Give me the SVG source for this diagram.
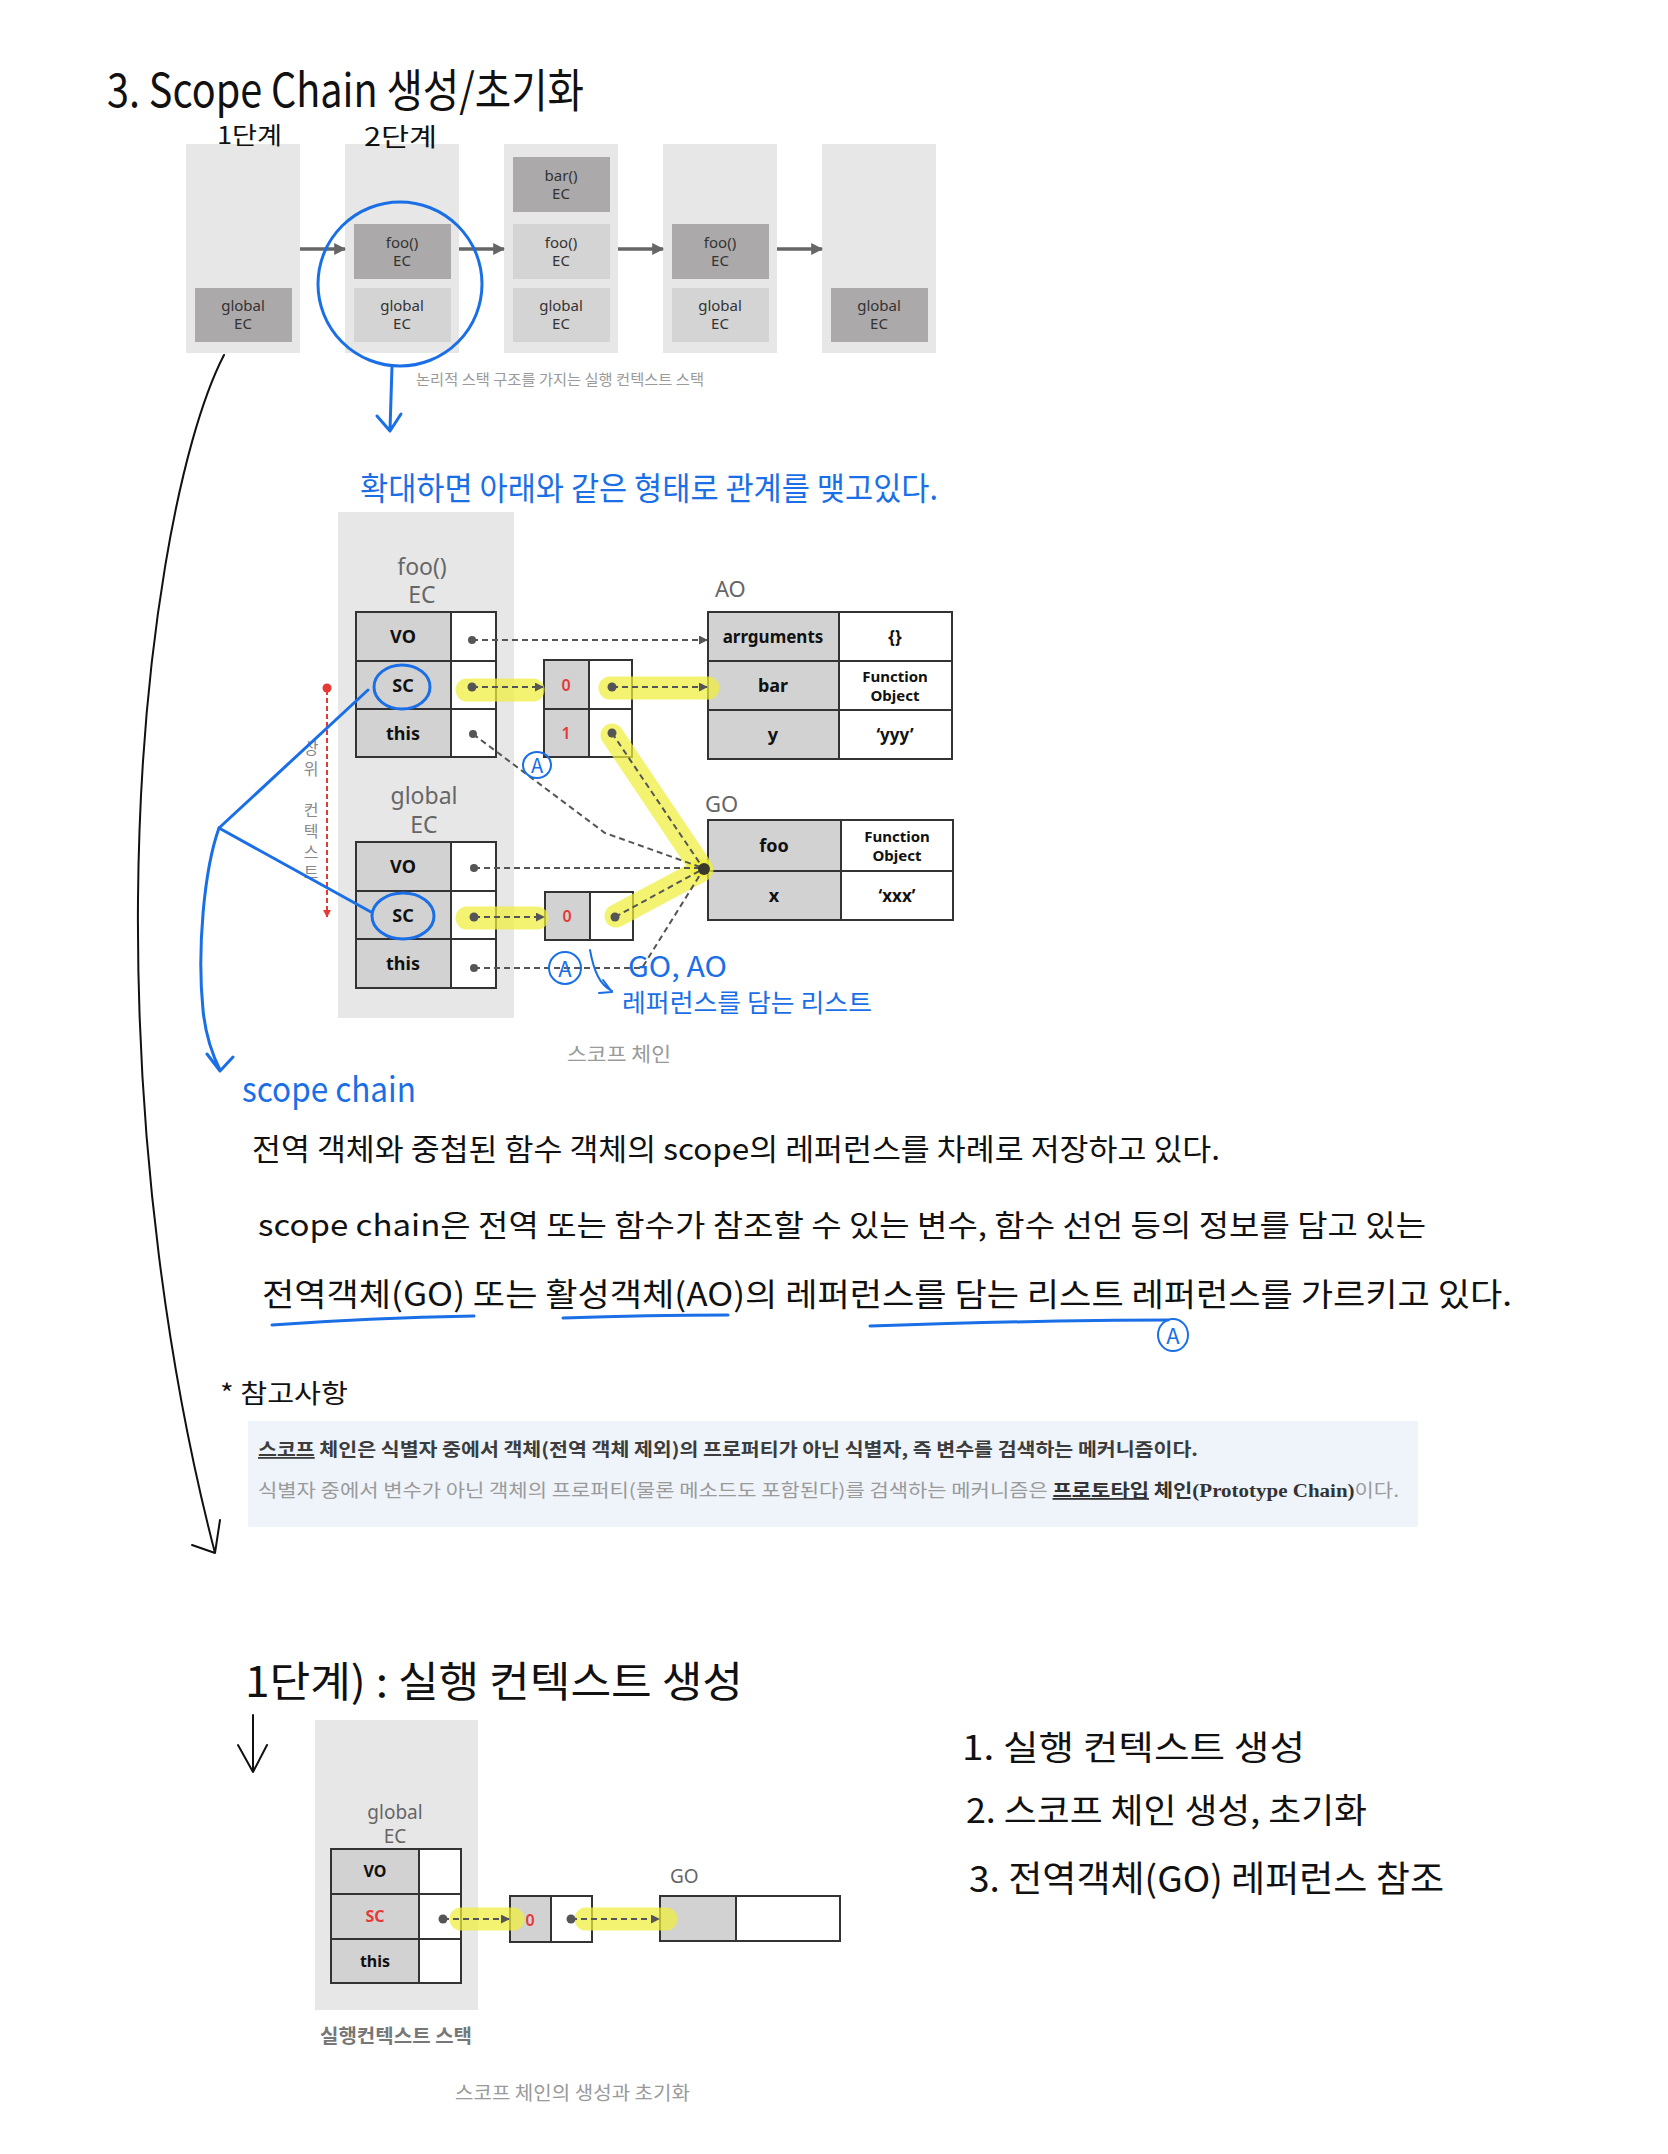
<svg xmlns="http://www.w3.org/2000/svg" width="1668" height="2154" viewBox="0 0 1668 2154">
<defs>
<marker id="ah" viewBox="0 0 10 10" refX="9" refY="5" markerWidth="9" markerHeight="9" markerUnits="userSpaceOnUse" orient="auto"><path d="M0,0 L10,5 L0,10 z" fill="#555"/></marker>
<marker id="ahBig" viewBox="0 0 10 10" refX="9" refY="5" markerWidth="12" markerHeight="12" markerUnits="userSpaceOnUse" orient="auto"><path d="M0,0 L10,5 L0,10 z" fill="#666"/></marker>
<marker id="ahRed" viewBox="0 0 10 10" refX="9" refY="5" markerWidth="8" markerHeight="8" markerUnits="userSpaceOnUse" orient="auto"><path d="M0,0 L10,5 L0,10 z" fill="#e53935"/></marker>
</defs>
<style>
.panel{fill:#e8e7e8}
.dk{fill:#aba9aa}
.lt{fill:#d5d4d5}
.bx{font-family:"Noto Sans","DejaVu Sans",sans-serif;font-size:15px;fill:#333;text-anchor:middle}
.cl{fill:#d3d2d3;stroke:#333;stroke-width:2}
.cv{fill:#fff;stroke:#333;stroke-width:2}
.lb{font-family:"Noto Sans","DejaVu Sans",sans-serif;font-weight:700;font-size:18px;fill:#111;text-anchor:middle;dominant-baseline:central}
.lbs{font-family:"Noto Sans","DejaVu Sans",sans-serif;font-weight:700;font-size:15px;fill:#111;text-anchor:middle}
.ttl{font-family:"Noto Sans","DejaVu Sans",sans-serif;font-size:23px;fill:#666;text-anchor:middle}
.red{fill:#e53935;font-family:"Noto Sans",sans-serif;font-weight:600;font-size:16px;text-anchor:middle;dominant-baseline:central}
.dash{stroke:#555;stroke-width:2;stroke-dasharray:6 4;fill:none}
.hl{stroke:#efee3a;stroke-opacity:.72;stroke-width:23;stroke-linecap:round;fill:none}
.dot{fill:#555}
.blue{stroke:#1a6fe6;stroke-width:3;fill:none;stroke-linecap:round;stroke-linejoin:round}
.blk{stroke:#111;stroke-width:2;fill:none;stroke-linecap:round;stroke-linejoin:round}
.hand{font-family:"Noto Sans CJK KR","Noto Sans",sans-serif}
.hb{fill:#1a6fe6}
.hk{fill:#111}
.cap{font-family:"Noto Sans CJK KR","Noto Sans",sans-serif;fill:#9a9a9a}
.vt{font-family:"Noto Sans CJK KR",sans-serif;font-size:16px;fill:#888;text-anchor:middle;dominant-baseline:central}
</style>
<rect width="1668" height="2154" fill="#fff"/>

<!-- Title -->
<text class="hand hk" x="107" y="107" font-size="46" textLength="477" lengthAdjust="spacingAndGlyphs">3. Scope Chain 생성/초기화</text>

<!-- Top stack row -->
<g id="stack1">
<rect class="panel" x="186" y="144" width="114" height="209"/>
<rect class="dk" x="195" y="288" width="97" height="54"/>
<text class="bx" x="243" y="311">global</text><text class="bx" x="243" y="329">EC</text>
</g>
<g id="stack2">
<rect class="panel" x="345" y="144" width="114" height="209"/>
<rect class="dk" x="354" y="224" width="97" height="55"/>
<text class="bx" x="402" y="248">foo()</text><text class="bx" x="402" y="266">EC</text>
<rect class="lt" x="354" y="288" width="97" height="54"/>
<text class="bx" x="402" y="311">global</text><text class="bx" x="402" y="329">EC</text>
</g>
<g id="stack3">
<rect class="panel" x="504" y="144" width="114" height="209"/>
<rect class="dk" x="513" y="157" width="97" height="55"/>
<text class="bx" x="561" y="181">bar()</text><text class="bx" x="561" y="199">EC</text>
<rect class="lt" x="513" y="224" width="97" height="55"/>
<text class="bx" x="561" y="248">foo()</text><text class="bx" x="561" y="266">EC</text>
<rect class="lt" x="513" y="288" width="97" height="54"/>
<text class="bx" x="561" y="311">global</text><text class="bx" x="561" y="329">EC</text>
</g>
<g id="stack4">
<rect class="panel" x="663" y="144" width="114" height="209"/>
<rect class="dk" x="672" y="224" width="97" height="55"/>
<text class="bx" x="720" y="248">foo()</text><text class="bx" x="720" y="266">EC</text>
<rect class="lt" x="672" y="288" width="97" height="54"/>
<text class="bx" x="720" y="311">global</text><text class="bx" x="720" y="329">EC</text>
</g>
<g id="stack5">
<rect class="panel" x="822" y="144" width="114" height="209"/>
<rect class="dk" x="831" y="288" width="97" height="54"/>
<text class="bx" x="879" y="311">global</text><text class="bx" x="879" y="329">EC</text>
</g>
<text class="hand hk" x="217" y="144" font-size="24" textLength="65" lengthAdjust="spacingAndGlyphs">1단계</text>
<text class="hand hk" x="364" y="146" font-size="25" textLength="73" lengthAdjust="spacingAndGlyphs">2단계</text>
<text class="cap" x="416" y="385" font-size="15" textLength="288" lengthAdjust="spacingAndGlyphs">논리적 스택 구조를 가지는 실행 컨텍스트 스택</text>

<!-- Expanded diagram -->
<text class="hand hb" x="360" y="500" font-size="32" textLength="578" lengthAdjust="spacingAndGlyphs">확대하면 아래와 같은 형태로 관계를 맺고있다.</text>

<g id="ec-panel">
<rect class="panel" x="338" y="512" width="176" height="506"/>
<text class="ttl" x="422" y="575">foo()</text>
<text class="ttl" x="422" y="603">EC</text>
<text class="ttl" x="424" y="804">global</text>
<text class="ttl" x="424" y="833">EC</text>
</g>

<g id="foo-ec">
<rect class="cl" x="356" y="612" width="95" height="49"/><rect class="cv" x="451" y="612" width="45" height="49"/>
<rect class="cl" x="356" y="661" width="95" height="48"/><rect class="cv" x="451" y="661" width="45" height="48"/>
<rect class="cl" x="356" y="709" width="95" height="48"/><rect class="cv" x="451" y="709" width="45" height="48"/>
<text class="lb" x="403" y="636">VO</text>
<text class="lb" x="403" y="685">SC</text>
<text class="lb" x="403" y="733">this</text>
</g>

<g id="foo-sc-list">
<rect class="cl" x="544" y="660" width="45" height="49"/><rect class="cv" x="589" y="660" width="43" height="49"/>
<rect class="cl" x="544" y="709" width="45" height="48"/><rect class="cv" x="589" y="709" width="43" height="48"/>
<text class="red" x="566" y="685">0</text>
<text class="red" x="566" y="733">1</text>
</g>

<g id="global-ec">
<rect class="cl" x="356" y="842" width="95" height="49"/><rect class="cv" x="451" y="842" width="45" height="49"/>
<rect class="cl" x="356" y="891" width="95" height="48"/><rect class="cv" x="451" y="891" width="45" height="48"/>
<rect class="cl" x="356" y="939" width="95" height="49"/><rect class="cv" x="451" y="939" width="45" height="49"/>
<text class="lb" x="403" y="866">VO</text>
<text class="lb" x="403" y="915">SC</text>
<text class="lb" x="403" y="963">this</text>
</g>

<g id="global-sc-list">
<rect class="cl" x="545" y="892" width="45" height="48"/><rect class="cv" x="590" y="892" width="43" height="48"/>
<text class="red" x="567" y="916">0</text>
</g>

<g id="ao">
<text class="ttl" x="715" y="597" style="text-anchor:start;font-size:22px">AO</text>
<rect class="cl" x="708" y="612" width="131" height="49"/><rect class="cv" x="839" y="612" width="113" height="49"/>
<rect class="cl" x="708" y="661" width="131" height="49"/><rect class="cv" x="839" y="661" width="113" height="49"/>
<rect class="cl" x="708" y="710" width="131" height="49"/><rect class="cv" x="839" y="710" width="113" height="49"/>
<text class="lb" x="773" y="636" style="font-size:17px">arrguments</text>
<text class="lb" x="895" y="636" style="font-size:17px">{}</text>
<text class="lb" x="773" y="685">bar</text>
<text class="lbs" x="895" y="682">Function</text><text class="lbs" x="895" y="701">Object</text>
<text class="lb" x="773" y="734">y</text>
<text class="lb" x="895" y="734" style="font-size:17px">‘yyy’</text>
</g>

<g id="go">
<text class="ttl" x="705" y="812" style="text-anchor:start;font-size:22px">GO</text>
<rect class="cl" x="708" y="820" width="133" height="51"/><rect class="cv" x="841" y="820" width="112" height="51"/>
<rect class="cl" x="708" y="871" width="133" height="49"/><rect class="cv" x="841" y="871" width="112" height="49"/>
<text class="lb" x="774" y="845">foo</text>
<text class="lbs" x="897" y="842">Function</text><text class="lbs" x="897" y="861">Object</text>
<text class="lb" x="774" y="895">x</text>
<text class="lb" x="897" y="895" style="font-size:17px">‘xxx’</text>
</g>

<text class="cap" x="567" y="1062" font-size="20" textLength="104" lengthAdjust="spacingAndGlyphs">스코프 체인</text>

<!-- vertical label -->
<g id="upper-context">
<text class="vt" x="311" y="747">상</text>
<text class="vt" x="311" y="768">위</text>
<text class="vt" x="311" y="809">컨</text>
<text class="vt" x="311" y="830">텍</text>
<text class="vt" x="311" y="851">스</text>
<text class="vt" x="311" y="871">트</text>
</g>

<!-- Bottom diagram -->
<g id="bottom-ec">
<rect class="panel" x="315" y="1720" width="163" height="290"/>
<text class="ttl" x="395" y="1819" style="font-size:19px">global</text>
<text class="ttl" x="395" y="1843" style="font-size:19px">EC</text>
<rect class="cl" x="331" y="1849" width="88" height="45"/><rect class="cv" x="419" y="1849" width="42" height="45"/>
<rect class="cl" x="331" y="1894" width="88" height="45"/><rect class="cv" x="419" y="1894" width="42" height="45"/>
<rect class="cl" x="331" y="1939" width="88" height="44"/><rect class="cv" x="419" y="1939" width="42" height="44"/>
<text class="lb" x="375" y="1871" style="font-size:16px">VO</text>
<text class="lb" x="375" y="1916" style="font-size:16px;fill:#e53935">SC</text>
<text class="lb" x="375" y="1961" style="font-size:16px">this</text>
</g>
<g id="bottom-sc-list">
<rect class="cl" x="510" y="1896" width="41" height="46"/><rect class="cv" x="551" y="1896" width="41" height="46"/>
<text class="red" x="530" y="1920">0</text>
</g>
<g id="bottom-go">
<text class="ttl" x="670" y="1883" style="text-anchor:start;font-size:19px">GO</text>
<rect class="cl" x="660" y="1896" width="76" height="45"/><rect class="cv" x="736" y="1896" width="104" height="45"/>
</g>
<text class="cap" x="320" y="2043" font-size="19" font-weight="700" style="fill:#777" textLength="152" lengthAdjust="spacingAndGlyphs">실행컨텍스트 스택</text>
<text class="cap" x="455" y="2100" font-size="19" textLength="235" lengthAdjust="spacingAndGlyphs">스코프 체인의 생성과 초기화</text>

<!-- Connectors -->
<g id="connectors">
<line x1="300" y1="249" x2="345" y2="249" stroke="#666" stroke-width="3.5" marker-end="url(#ahBig)"/>
<line x1="459" y1="249" x2="504" y2="249" stroke="#666" stroke-width="3.5" marker-end="url(#ahBig)"/>
<line x1="618" y1="249" x2="663" y2="249" stroke="#666" stroke-width="3.5" marker-end="url(#ahBig)"/>
<line x1="777" y1="249" x2="822" y2="249" stroke="#666" stroke-width="3.5" marker-end="url(#ahBig)"/>

<line class="hl" x1="467" y1="690" x2="533" y2="690"/>
<line class="hl" x1="610" y1="688" x2="708" y2="688"/>
<line class="hl" x1="612" y1="735" x2="700" y2="866"/>
<line class="hl" x1="467" y1="918" x2="537" y2="918"/>
<line class="hl" x1="616" y1="916" x2="702" y2="870"/>
<line class="hl" x1="461" y1="1919" x2="513" y2="1919"/>
<line class="hl" x1="586" y1="1919" x2="666" y2="1919"/>

<line class="dash" x1="472" y1="640" x2="707" y2="640" marker-end="url(#ah)"/>
<line class="dash" x1="472" y1="687" x2="543" y2="687" marker-end="url(#ah)"/>
<line class="dash" x1="612" y1="687" x2="707" y2="687" marker-end="url(#ah)"/>
<line class="dash" x1="612" y1="733" x2="703" y2="868"/>
<polyline class="dash" points="473,734 605,833 703,868"/>
<line class="dash" x1="474" y1="868" x2="703" y2="868"/>
<line class="dash" x1="474" y1="917" x2="544" y2="917" marker-end="url(#ah)"/>
<line class="dash" x1="615" y1="917" x2="703" y2="869"/>
<polyline class="dash" points="474,968 642,968 703,870"/>
<circle cx="704" cy="869" r="6" fill="#3a3a2a"/>
<circle class="dot" cx="472" cy="640" r="4"/>
<circle class="dot" cx="472" cy="687" r="4.5"/>
<circle class="dot" cx="473" cy="734" r="4"/>
<circle class="dot" cx="612" cy="687" r="4.5"/>
<circle class="dot" cx="612" cy="733" r="4.5"/>
<circle class="dot" cx="474" cy="868" r="4"/>
<circle class="dot" cx="474" cy="917" r="4.5"/>
<circle class="dot" cx="474" cy="968" r="4"/>
<circle class="dot" cx="615" cy="917" r="4.5"/>
<circle cx="327" cy="688" r="4.5" fill="#e53935"/>
<line x1="327" y1="690" x2="327" y2="917" stroke="#e53935" stroke-width="2" stroke-dasharray="5 3" marker-end="url(#ahRed)"/>
<line class="dash" x1="443" y1="1919" x2="509" y2="1919" marker-end="url(#ah)"/>
<line class="dash" x1="571" y1="1919" x2="659" y2="1919" marker-end="url(#ah)"/>
<circle class="dot" cx="443" cy="1919" r="4.5"/>
<circle class="dot" cx="571" cy="1919" r="4.5"/>
</g>

<!-- Blue annotations -->
<g id="annotations">
<circle class="blue" cx="400" cy="284" r="82"/>
<path class="blue" d="M392,366 L390,430 M377,416 L390,431 L401,414"/>
<ellipse class="blue" cx="402" cy="687" rx="28" ry="22"/>
<ellipse class="blue" cx="403" cy="916" rx="31" ry="23"/>
<path class="blue" d="M368,690 L219,828 L371,912"/>
<path class="blue" d="M219,828 C 204,870 197,950 203,1010 C 206,1040 214,1058 220,1070 M207,1054 L220,1071 L233,1057"/>
<text class="hand hb" x="242" y="1102" font-size="34" textLength="174" lengthAdjust="spacingAndGlyphs">scope chain</text>

<ellipse class="blue" cx="537" cy="765" rx="14" ry="13" style="stroke-width:2"/>
<text class="hand hb" x="537" y="773" font-size="20" text-anchor="middle">A</text>
<ellipse class="blue" cx="565" cy="968" rx="16" ry="16" style="stroke-width:2"/>
<text class="hand hb" x="565" y="977" font-size="22" text-anchor="middle">A</text>
<path class="blue" d="M590,950 C 594,972 600,985 612,991 M603,980 L612,992 L599,993" style="stroke-width:2"/>
<text class="hand hb" x="628" y="977" font-size="28" textLength="99" lengthAdjust="spacingAndGlyphs">GO, AO</text>
<text class="hand hb" x="622" y="1012" font-size="25" textLength="250" lengthAdjust="spacingAndGlyphs">레퍼런스를 담는 리스트</text>

<path class="blue" d="M272,1325 C 340,1320 420,1317 474,1316"/>
<path class="blue" d="M563,1318 C 620,1316 690,1315 728,1315"/>
<path class="blue" d="M870,1326 C 960,1323 1080,1320 1168,1320"/>
<ellipse class="blue" cx="1173" cy="1335" rx="15" ry="16" style="stroke-width:2"/>
<text class="hand hb" x="1173" y="1344" font-size="22" text-anchor="middle">A</text>
</g>

<path class="blk" d="M224,355 C 180,440 140,650 138,900 C 136,1150 170,1380 215,1553 M192,1545 L215,1553 L220,1520"/>

<text class="hand hk" x="252" y="1160" font-size="30" textLength="968" lengthAdjust="spacingAndGlyphs">전역 객체와 중첩된 함수 객체의 scope의 레퍼런스를 차례로 저장하고 있다.</text>
<text class="hand hk" x="258" y="1236" font-size="30" textLength="1168" lengthAdjust="spacingAndGlyphs">scope chain은 전역 또는 함수가 참조할 수 있는 변수, 함수 선언 등의 정보를 담고 있는</text>
<text class="hand hk" x="262" y="1306" font-size="32" textLength="1250" lengthAdjust="spacingAndGlyphs">전역객체(GO) 또는 활성객체(AO)의 레퍼런스를 담는 리스트 레퍼런스를 가르키고 있다.</text>

<text class="hand hk" x="220" y="1403" font-size="26" textLength="128" lengthAdjust="spacingAndGlyphs">* 참고사항</text>

<g id="note">
<rect x="248" y="1421" width="1170" height="106" fill="#eef4fa"/>
<text x="258" y="1456" font-family="'Noto Sans CJK KR','Noto Sans',sans-serif" font-size="18" font-weight="700" fill="#3c3c3c" textLength="940" lengthAdjust="spacingAndGlyphs"><tspan text-decoration="underline">스코프</tspan> 체인은 식별자 중에서 객체(전역 객체 제외)의 프로퍼티가 아닌 식별자, 즉 변수를 검색하는 메커니즘이다.</text>
<text x="258" y="1497" font-family="'Noto Sans CJK KR','Noto Sans',sans-serif" font-size="18" fill="#9a9a9a" textLength="1141" lengthAdjust="spacingAndGlyphs">식별자 중에서 변수가 아닌 객체의 프로퍼티(물론 메소드도 포함된다)를 검색하는 메커니즘은 <tspan font-weight="700" fill="#333" text-decoration="underline">프로토타입</tspan><tspan font-weight="700" fill="#333"> 체인</tspan><tspan font-family="'Liberation Serif',serif" font-weight="700" fill="#333">(Prototype Chain)</tspan>이다.</text>
</g>

<text class="hand hk" x="245" y="1697" font-size="42" textLength="498" lengthAdjust="spacingAndGlyphs">1단계) : 실행 컨텍스트 생성</text>
<path class="blk" d="M253,1715 L253,1772 M238,1745 L253,1772 L267,1745"/>

<text class="hand hk" x="962" y="1760" font-size="34" textLength="343" lengthAdjust="spacingAndGlyphs">1. 실행 컨텍스트 생성</text>
<text class="hand hk" x="966" y="1823" font-size="34" textLength="401" lengthAdjust="spacingAndGlyphs">2. 스코프 체인 생성, 초기화</text>
<text class="hand hk" x="969" y="1892" font-size="36" textLength="475" lengthAdjust="spacingAndGlyphs">3. 전역객체(GO) 레퍼런스 참조</text>
</svg>
